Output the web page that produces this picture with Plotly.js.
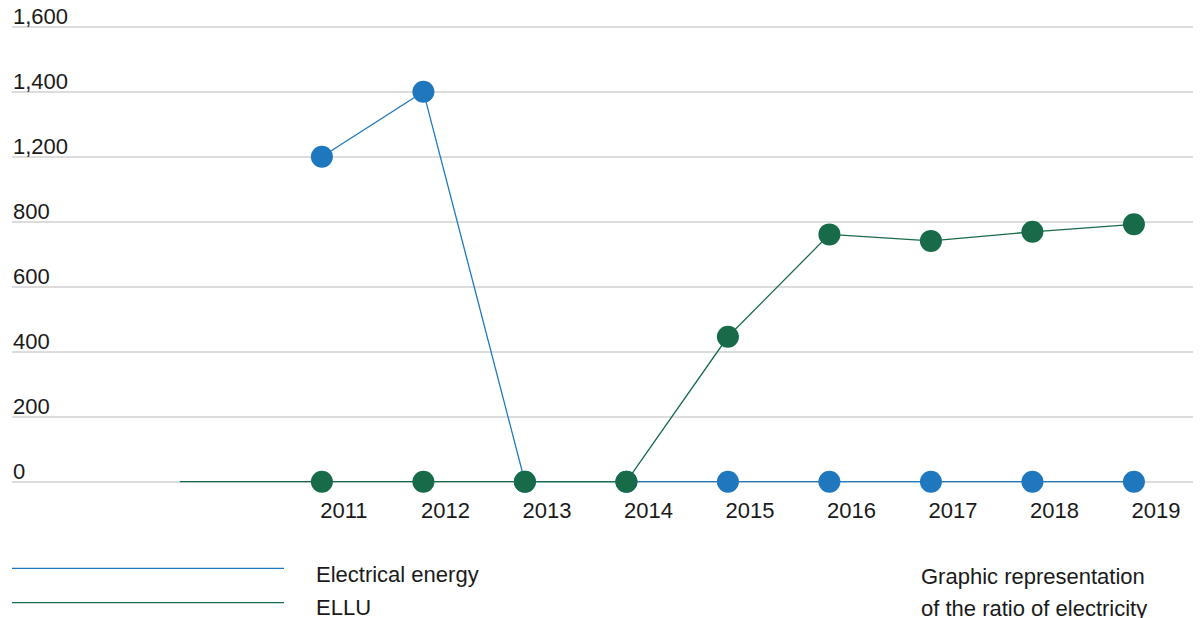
<!DOCTYPE html>
<html>
<head>
<meta charset="utf-8">
<script src="https://cdn.plot.ly/plotly-3.0.1.min.js"></script>
<style>
  html, body { margin: 0; padding: 0; background: #ffffff; }
  #chart { width: 1200px; height: 618px; }
</style>
</head>
<body>
<div id="chart"></div>
<script>
// ---- data ----
const years = [2011, 2012, 2013, 2014, 2015, 2016, 2017, 2018, 2019];
const electricalEnergy = [1200, 1400, 0, 0, 0, 0, 0, 0, 0];
const ellu = [0, 0, 0, 0, 446, 761, 741, 769, 792];
const elluLineStart = 2009.6;            // ELLU line runs in from the left of the first year
const seriesNames = ['Electrical energy', 'ELLU'];
const yTickValues = [0, 200, 400, 600, 800, 1200, 1400, 1600];
const noteLines = ['Graphic representation', 'of the ratio of electricity'];

// ---- style ----
const BLUE = '#1f78be';
const GREEN = '#176b48';
const TEXT = '#1a1a1a';
const GRID = '#dcdcdc';
const FONT = 'Liberation Sans, Arial, sans-serif';

// The value axis is broken: the band 1,000–1,200 is left out.
const axisBreak = { from: 1000, to: 1200 };
const squeeze = v => (v >= axisBreak.to ? v - (axisBreak.to - axisBreak.from) : v);

// ---- geometry ----
const W = 1200, H = 618;
const M = { l: 12, r: 7, t: 0, b: 127 };
const plotW = W - M.l - M.r;
const plotH = H - M.t - M.b;
const px = x => (x - M.l) / plotW;          // page x -> paper x
const py = y => (H - M.b - y) / plotH;      // page y -> paper y

const traces = [
  {
    name: seriesNames[0],
    x: years,
    y: electricalEnergy.map(squeeze),
    customdata: electricalEnergy,
    hovertemplate: '%{x}: %{customdata:,}<extra>' + seriesNames[0] + '</extra>',
    mode: 'lines+markers',
    line: { color: BLUE, width: 1.3 },
    marker: { color: BLUE, size: 22 },
    cliponaxis: false,
    showlegend: false
  },
  {
    name: seriesNames[1],
    x: [elluLineStart, years[0]],
    y: [ellu[0], ellu[0]].map(squeeze),
    mode: 'lines',
    line: { color: GREEN, width: 1.3 },
    hoverinfo: 'skip',
    showlegend: false
  },
  {
    name: seriesNames[1],
    x: years,
    y: ellu.map(squeeze),
    customdata: ellu,
    hovertemplate: '%{x}: %{customdata:,}<extra>' + seriesNames[1] + '</extra>',
    mode: 'lines+markers',
    line: { color: GREEN, width: 1.3 },
    marker: { color: GREEN, size: 22 },
    cliponaxis: false,
    showlegend: false
  }
];

const legendRows = [
  { name: seriesNames[0], color: BLUE, lineY: 568.3, textY: 574 },
  { name: seriesNames[1], color: GREEN, lineY: 602.7, textY: 607.5 }
];

const shapes = legendRows.map(r => ({
  type: 'line', xref: 'paper', yref: 'paper',
  x0: px(12), x1: px(284), y0: py(r.lineY), y1: py(r.lineY),
  line: { color: r.color, width: 1.3 }
}));

const annotations = legendRows.map(r => ({
  xref: 'paper', yref: 'paper', x: px(314), y: py(r.textY),
  xanchor: 'left', yanchor: 'middle', showarrow: false,
  text: r.name, font: { family: FONT, size: 22, color: TEXT }
})).concat(noteLines.map((t, i) => ({
  xref: 'paper', yref: 'paper', x: px(919), y: py(576 + i * 32),
  xanchor: 'left', yanchor: 'middle', showarrow: false,
  text: t, font: { family: FONT, size: 22, color: TEXT }
})));

const layout = {
  width: W, height: H,
  margin: M,
  paper_bgcolor: '#ffffff',
  plot_bgcolor: '#ffffff',
  font: { family: FONT, size: 22, color: TEXT },
  showlegend: false,
  hovermode: 'closest',
  xaxis: {
    range: [2007.947, 2019.582],
    tickvals: years,
    ticktext: years.map(String),
    ticklabelshift: 22,
    ticklabelstandoff: 4,
    ticks: '',
    showgrid: false,
    zeroline: false,
    showline: false,
    tickfont: { family: FONT, size: 22, color: TEXT }
  },
  yaxis: {
    range: [-28.6, 1482.2],
    tickvals: yTickValues.map(squeeze),
    ticktext: yTickValues.map(v => v.toLocaleString('en-US')),
    ticklabelposition: 'inside top',
    ticklabelshift: 5,
    ticklabelstandoff: -2,
    ticks: '',
    showgrid: true,
    gridcolor: GRID,
    gridwidth: 1.5,
    zeroline: false,
    showline: false,
    tickfont: { family: FONT, size: 22, color: TEXT }
  },
  shapes: shapes,
  annotations: annotations
};

Plotly.newPlot('chart', traces, layout, { displayModeBar: false, staticPlot: false });
</script>
</body>
</html>
